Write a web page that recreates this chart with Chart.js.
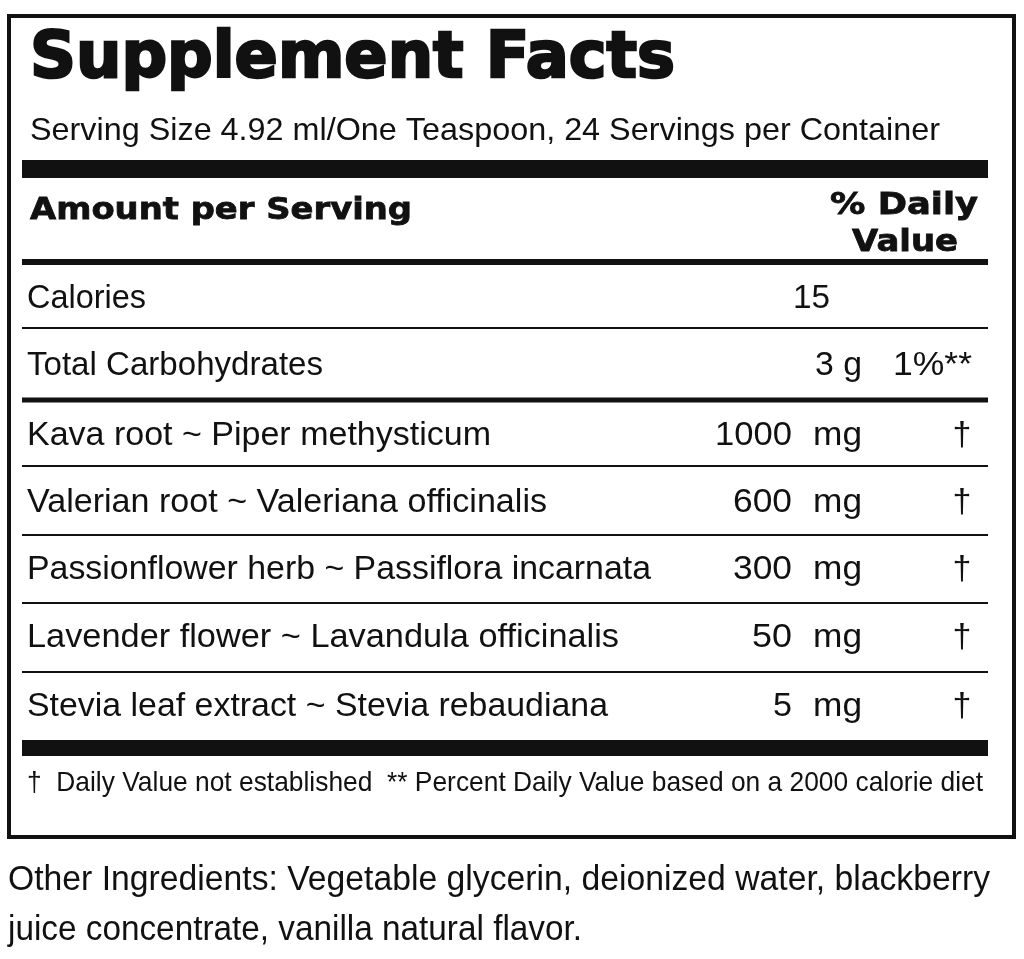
<!DOCTYPE html>
<html><head><meta charset="utf-8">
<script src="https://cdn.jsdelivr.net/npm/chart.js@4"></script>
<style>html,body{margin:0;padding:0;background:#fff}#c{display:block}</style>
</head><body>
<div style="width:1024px;height:959px"><canvas id="c" width="1024" height="959"></canvas></div>
<script>
const title = "Supplement Facts";
const servingText = "Serving Size 4.92 ml/One Teaspoon, 24 Servings per Container";
const headerLeft = "Amount per Serving";
const headerRight = ["% Daily", "Value"];
const names = ["Calories","Total Carbohydrates","Kava root ~ Piper methysticum","Valerian root ~ Valeriana officinalis","Passionflower herb ~ Passiflora incarnata","Lavender flower ~ Lavandula officinalis","Stevia leaf extract ~ Stevia rebaudiana"];
const amounts = ["15","3","1000","600","300","50","5"];
const units = ["","g","mg","mg","mg","mg","mg"];
const dailyValues = ["","1%**","†","†","†","†","†"];
const footnote = "†  Daily Value not established  ** Percent Daily Value based on a 2000 calorie diet";
const otherIngredients = ["Other Ingredients: Vegetable glycerin, deionized water, blackberry","juice concentrate, vanilla natural flavor."];

// layout (pixel positions on a 0..959 vertical scale)
const rowY = [299,366,436,503,570,638,707];
const nameW = [119,296,464,520,624,592,581];
const amountW = [37,0,77,59,59,40,19];
const sepY = [328,400,466,535,603,672];
const sepH = [2,5,2,2,2,2];

const layoutPlugin = {
  id:'label',
  afterDraw(chart){
    const ctx = chart.ctx, ys = chart.scales.y, xs = chart.scales.x;
    const X = v=>xs.getPixelForValue(v), Y = v=>ys.getPixelForValue(v);
    function txt(s,x,y,font,align,w,stroke){
      ctx.save(); ctx.font=font; ctx.fillStyle='#111'; ctx.textBaseline='middle';
      const m = ctx.measureText(s).width; const k = w? w/m : 1;
      let x0 = align==='right'? x-(w||m) : align==='center'? x-(w||m)/2 : x;
      ctx.translate(X(x0),Y(y)); ctx.scale(k,1); ctx.textAlign='left'; ctx.fillText(s,0,0);
      if(stroke){ctx.strokeStyle='#111';ctx.lineWidth=stroke;ctx.strokeText(s,0,0);}
      ctx.restore();
    }
    function rect(x,y,w,h){ctx.fillStyle='#111';ctx.fillRect(X(x),Y(y),w,h);}
    ctx.save(); ctx.strokeStyle='#111'; ctx.lineWidth=4; ctx.strokeRect(X(9),Y(16),1005,821); ctx.restore();
    const F = '34px "Liberation Sans"';
    txt(title,30,60,'bold 64px "DejaVu Sans"','left',645,2.5);
    txt(servingText,30,131,'32px "Liberation Sans"','left',910);
    rect(22,160,966,18);
    txt(headerLeft,30,211,'bold 31px "DejaVu Sans"','left',382,0.8);
    txt(headerRight[0],978,206,'bold 31px "DejaVu Sans"','right',148,0.8);
    txt(headerRight[1],958,243,'bold 31px "DejaVu Sans"','right',106,0.8);
    rect(22,259,966,6);
    names.forEach((n,i)=>{
      const y=rowY[i];
      txt(n,27,y,F,'left',nameW[i]);
      if(i===0){ txt(amounts[i],830,y,F,'right',amountW[i]); }
      else if(i===1){ txt(amounts[i]+' '+units[i],862,y,F,'right',47);
        txt(dailyValues[i],972,y,F,'right',79); }
      else { txt(amounts[i],792,y,F,'right',amountW[i]);
        txt(units[i],813,y,F,'left',49);
        txt(dailyValues[i],962,y,F,'center'); }
    });
    sepY.forEach((y,i)=>rect(22,y-sepH[i]/2,966,sepH[i]));
    rect(22,740,966,16);
    txt(footnote,27,783,'28px "Liberation Sans"','left',956);
    txt(otherIngredients[0],8,880,'35px "Liberation Sans"','left',982);
    txt(otherIngredients[1],8,930,'35px "Liberation Sans"','left',574);
  }
};

new Chart(document.getElementById('c'),{
  type:'scatter',
  data:{datasets:[{data:rowY.map((y,i)=>({x:27,y})),pointRadius:0}]},
  options:{responsive:false,animation:false,devicePixelRatio:1,
    layout:{padding:0},
    plugins:{legend:{display:false},tooltip:{enabled:false}},
    scales:{x:{type:'linear',min:0,max:1024,display:false},
            y:{type:'linear',min:0,max:959,reverse:true,display:false}}},
  plugins:[layoutPlugin]
});
</script>
</body></html>
